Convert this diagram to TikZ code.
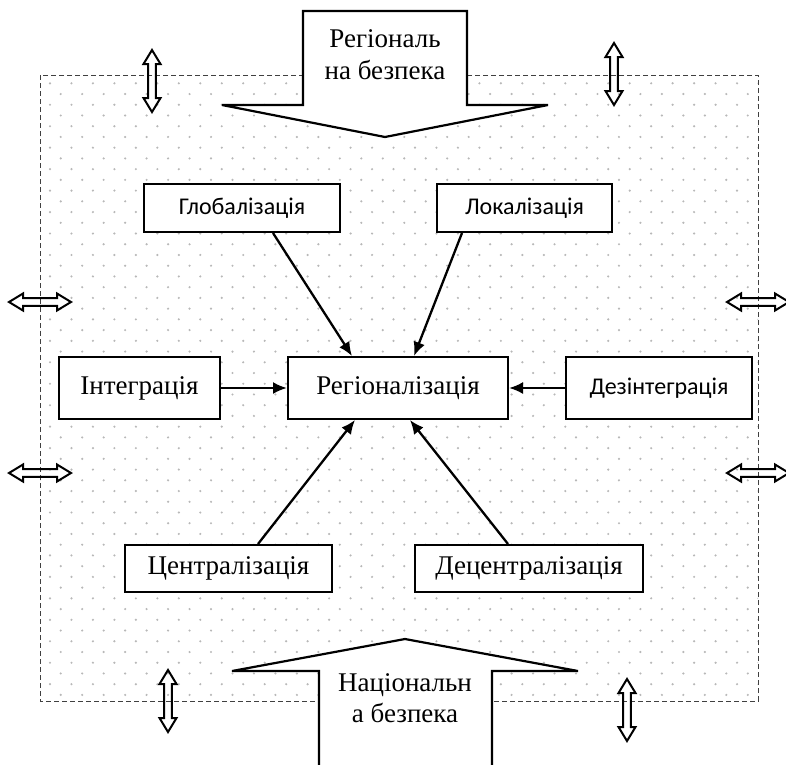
\documentclass[tikz,border=0pt]{standalone}
\usepackage{fontspec}
\setmainfont{Liberation Serif}
\newfontfamily\sansc{Carlito}
\usetikzlibrary{arrows.meta}
\definecolor{dotc}{HTML}{B8B8B8}
\tikzset{
  serifbox/.style={draw, line width=2, fill=white, inner sep=0pt, font=\fontsize{27}{31}\selectfont},
  sansbox/.style={draw, line width=2, fill=white, inner sep=0pt, font=\sansc\fontsize{24}{28}\selectfont},
  conn/.style={line width=2.3, -{Latex[length=14,width=12]}},
  bigarrow/.style={line width=2.2, fill=white, line join=miter},
  dblv/.pic={\draw[line width=2, line join=miter]
     (0,-31)--(-8.5,-17)--(-3.8,-17)--(-3.8,17)--(-8.5,17)--(0,31)--(8.5,17)--(3.8,17)--(3.8,-17)--(8.5,-17)--cycle;}
}
\begin{document}
\begin{tikzpicture}[x=1pt,y=-1pt]
\useasboundingbox (0,0) rectangle (786,764);
% dotted background
\begin{scope}
\clip (40,75) rectangle (758,701);
\foreach \i in {0,...,58}{
  \pgfmathsetmacro\yy{83.3+10.73*\i}
  \pgfmathsetmacro\xo{50+10.73*mod(\i,2)-21.47}
  \foreach \j in {0,...,35}{
    \fill[dotc] (\xo+21.47*\j,\yy) circle[radius=1.2];
  }
}
\end{scope}
\draw[line width=0.9, dash pattern=on 5 off 3, black!75] (40,75) rectangle (758,701);
% big arrows
\draw[bigarrow] (303,11)--(467,11)--(467,105)--(548,105)--(385,137)--(222,105)--(303,105)--cycle;
\node[align=center, font=\fontsize{27}{32}\selectfont] (regsec) at (385,55) {Регіональ\\на безпека};
\fill[white] (319,766)--(319,671)--(232,671)--(405,639)--(578,671)--(492,671)--(492,766)--cycle;
\draw[bigarrow, fill=none] (319,766)--(319,671)--(232,671)--(405,639)--(578,671)--(492,671)--(492,766);
\node[align=center, font=\fontsize{27}{31}\selectfont] (natsec) at (405,698) {Національн\\а безпека};
% small double arrows
\pic at (152,81) {dblv};
\pic at (614,74) {dblv};
\pic at (168,701) {dblv};
\pic at (627,710) {dblv};
\pic[rotate=90] at (40,302) {dblv};
\pic[rotate=90] at (40,473) {dblv};
\pic[rotate=90] at (758,302) {dblv};
\pic[rotate=90] at (758,473) {dblv};
% nodes
\node[serifbox, minimum width=220, minimum height=62] (reg) at (398,388) {Регіоналізація};
\node[serifbox, minimum width=161, minimum height=62] (integ) at (139.5,388) {Інтеграція};
\node[sansbox, minimum width=186, minimum height=62] (dez) at (659,388) {Дезінтеграція};
\node[sansbox, minimum width=196, minimum height=48] (glob) at (242,208) {Глобалізація};
\node[sansbox, minimum width=175, minimum height=48] (loc) at (524.5,208) {Локалізація};
\node[serifbox, minimum width=207, minimum height=47] (centr) at (228.5,568.5) {Централізація};
\node[serifbox, minimum width=228, minimum height=47] (decentr) at (529,568.5) {Децентралізація};
% connectors
\draw[conn] ([xshift=31]glob.south) -- ([xshift=-46]reg.north);
\draw[conn] ([xshift=-62.5]loc.south) -- ([xshift=16]reg.north);
\draw[conn] (integ.east) -- (reg.west);
\draw[conn] (dez.west) -- (reg.east);
\draw[conn] ([xshift=29.5]centr.north) -- ([xshift=-43]reg.south);
\draw[conn] ([xshift=-21]decentr.north) -- ([xshift=12]reg.south);
\end{tikzpicture}
\end{document}
